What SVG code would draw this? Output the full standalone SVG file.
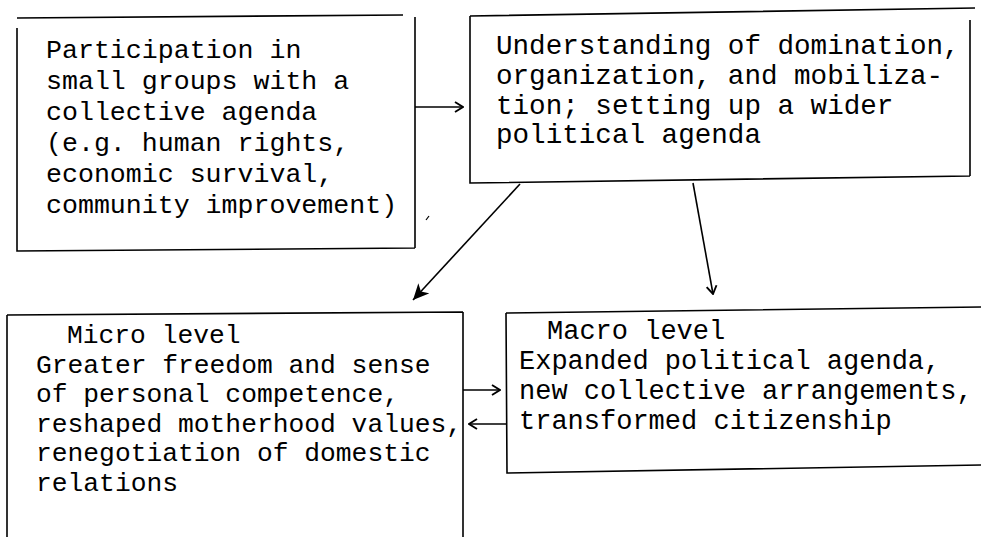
<svg xmlns="http://www.w3.org/2000/svg" width="981" height="537" viewBox="0 0 981 537">
  <style>
    .box { fill: none; stroke: #000; stroke-width: 1.6; stroke-linejoin: miter; }
    .conn { fill: none; stroke: #000; stroke-width: 1.6; }
    text { font-family: "Liberation Mono", "Courier New", monospace; font-size: 26px; fill: #000; }
    #participation text { font-size: 26.6px; }
    #understanding text { font-size: 27.6px; }
    #micro text { font-size: 26.3px; }
    #macro text { font-size: 27px; }
  </style>
  <defs>
    <marker id="open" viewBox="0 0 12 12" refX="11" refY="6" markerWidth="12" markerHeight="12" markerUnits="userSpaceOnUse" orient="auto">
      <path d="M3,1 L11,6 L3,11" fill="none" stroke="#000" stroke-width="1.9"/>
    </marker>
    <marker id="solid" viewBox="0 0 16 14" refX="15" refY="7" markerWidth="17" markerHeight="15" markerUnits="userSpaceOnUse" orient="auto">
      <path d="M0,0 L15,7 L0,14 L4,7 Z" fill="#000"/>
    </marker>
  </defs>
  <rect width="981" height="537" fill="#fff"/>

  <g id="participation">
    <path class="box" d="M17,18 L403,15 M17,28 L17,251 L415,248 M415,17 L415,248"/>
    <text x="46" y="58">Participation in</text>
    <text x="46" y="89">small groups with a</text>
    <text x="46" y="120">collective agenda</text>
    <text x="46" y="151">(e.g. human rights,</text>
    <text x="46" y="182">economic survival,</text>
    <text x="46" y="213">community improvement)</text>
  </g>

  <g id="understanding">
    <path class="box" d="M470,16 L975,8 M470,16 L470,183 L970,176 M970,20 L970,176"/>
    <text x="496" y="54">Understanding of domination,</text>
    <text x="496" y="84">organization, and mobiliza-</text>
    <text x="496" y="114">tion; setting up a wider</text>
    <text x="496" y="143">political agenda</text>
  </g>

  <g id="micro">
    <path class="box" d="M7,315 L463,312 M7,315 L7,537 M463,312 L463,537"/>
    <text x="67" y="343">Micro level</text>
    <text x="36" y="372.5">Greater freedom and sense</text>
    <text x="36" y="402">of personal competence,</text>
    <text x="36" y="431.5">reshaped motherhood values,</text>
    <text x="36" y="461">renegotiation of domestic</text>
    <text x="36" y="490.5">relations</text>
  </g>

  <g id="macro">
    <path class="box" d="M506,313 L981,307 M506,313 L507,473 L981,465"/>
    <text x="547" y="339">Macro level</text>
    <text x="519" y="369">Expanded political agenda,</text>
    <text x="519" y="399">new collective arrangements,</text>
    <text x="519" y="429">transformed citizenship</text>
  </g>

  <g id="connectors">
    <line class="conn" x1="415" y1="107" x2="463" y2="107" marker-end="url(#open)"/>
    <line class="conn" x1="520" y1="184" x2="413" y2="300" marker-end="url(#solid)"/>
    <line class="conn" x1="693" y1="183" x2="713" y2="294" marker-end="url(#open)"/>
    <line class="conn" x1="463" y1="390" x2="500" y2="390" marker-end="url(#open)"/>
    <line class="conn" x1="506" y1="424" x2="469" y2="424" marker-end="url(#open)"/>
  </g>

  <path d="M429,216 L426,220" stroke="#000" stroke-width="1.2" fill="none"/>
</svg>
